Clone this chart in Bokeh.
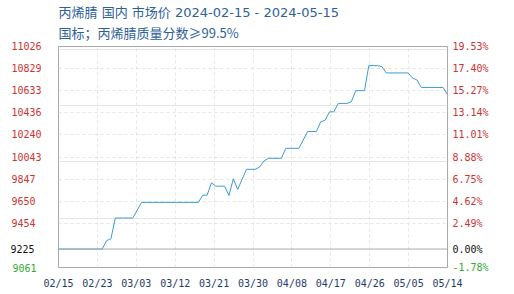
from bokeh.plotting import figure
from bokeh.models import FixedTicker, Grid, Span, Title, Range1d, LinearAxis
from bokeh.embed import file_html
from bokeh.resources import INLINE
import pandas as pd

title_text = "丙烯腈 国内 市场价 2024-02-15 - 2024-05-15"
subtitle_text = "国标；丙烯腈质量分数≥99.5%"

dates = ["2024-02-15", "2024-02-25", "2024-02-26", "2024-02-27", "2024-02-28",
         "2024-03-03", "2024-03-05", "2024-03-18", "2024-03-19", "2024-03-20",
         "2024-03-21", "2024-03-22", "2024-03-24", "2024-03-25", "2024-03-26",
         "2024-03-27", "2024-03-29", "2024-03-31", "2024-04-01", "2024-04-02",
         "2024-04-03", "2024-04-06", "2024-04-07", "2024-04-10", "2024-04-12",
         "2024-04-14", "2024-04-15", "2024-04-16", "2024-04-17", "2024-04-18",
         "2024-04-19", "2024-04-21", "2024-04-22", "2024-04-23", "2024-04-25",
         "2024-04-26", "2024-04-28", "2024-04-29", "2024-04-30", "2024-05-05",
         "2024-05-06", "2024-05-07", "2024-05-08", "2024-05-13", "2024-05-14"]
prices = [9225, 9225, 9299, 9317, 9501,
          9501, 9640, 9640, 9704, 9704,
          9814, 9784, 9784, 9701, 9850,
          9755, 9934, 9934, 9954, 10008,
          10032, 10032, 10121, 10121, 10270,
          10270, 10356, 10371, 10445, 10445,
          10520, 10520, 10535, 10633, 10633,
          10856, 10856, 10847, 10791, 10791,
          10746, 10729, 10662, 10662, 10597]

base_price = 9225
y_min, y_max = 9061, 11026
grid_values = [11026, 10829.5, 10633, 10436.5, 10240, 10043.5, 9847, 9650.5, 9454]
grid_labels = ["11026", "10829", "10633", "10436", "10240", "10043", "9847", "9650", "9454"]
grid_pct_labels = ["19.53%", "17.40%", "15.27%", "13.14%", "11.01%", "8.88%", "6.75%", "4.62%", "2.49%"]
base_label, base_pct_label = "9225", "0.00%"
min_label, min_pct_label = "9061", "-1.78%"
x_tick_labels = ["02/15", "02/23", "03/03", "03/12", "03/21", "03/30", "04/08", "04/17", "04/26", "05/05", "05/14"]

start = pd.Timestamp(dates[0])
end = pd.Timestamp(dates[-1])
days = [(pd.Timestamp(d) - start).days for d in dates]
span_days = (end - start).days
n = len(x_tick_labels) - 1
x_ticks = [i * span_days / n for i in range(n + 1)]

RED = "#cc3333"
GREEN = "#33aa33"
BLACK = "#111111"
MONO = "DejaVu Sans Mono"
NBSP = "\u00a0"

p = figure(width=514, height=294, output_backend="svg", toolbar_location=None,
           x_range=Range1d(0, span_days), y_range=Range1d(y_min, y_max),
           x_axis_location="below", y_axis_location=None,
           min_border_left=58, min_border_right=67, min_border_top=46, min_border_bottom=27)
p.background_fill_color = "white"
p.border_fill_color = "white"
p.outline_line_color = "#aaaaaa"
p.outline_line_width = 1

p.xgrid.ticker = FixedTicker(ticks=x_ticks)
p.xgrid.grid_line_color = "#e4e4e4"
p.xgrid.grid_line_dash = "3 3"
p.add_layout(Grid(dimension=1, ticker=FixedTicker(ticks=grid_values),
                  grid_line_color="#e4e4e4", grid_line_dash="3 3"))

ax = p.xaxis[0]
ax.ticker = FixedTicker(ticks=x_ticks)
ax.major_label_overrides = {t: l for t, l in zip(x_ticks, x_tick_labels)}
ax.axis_line_color = None
ax.major_tick_line_color = None
ax.minor_tick_line_color = None
ax.major_tick_out = 0
ax.major_label_standoff = 10
ax.major_label_text_font = MONO
ax.major_label_text_font_size = "10px"
ax.major_label_text_color = "#1f3c6a"


def add_y_axis(side, values, labels, color, standoff):
    a = LinearAxis(ticker=FixedTicker(ticks=values),
                   major_label_overrides={v: l for v, l in zip(values, labels)},
                   axis_line_color=None, major_tick_line_color=None, minor_tick_line_color=None,
                   major_tick_out=0, major_tick_in=0, minor_tick_out=0, minor_tick_in=0,
                   major_label_standoff=standoff,
                   major_label_text_font=MONO, major_label_text_font_size="10px",
                   major_label_text_color=color)
    p.add_layout(a, side)


# left: red labels padded to equal width (left-aligned look); black/green stacked outside
add_y_axis("left", grid_values, [l.ljust(5, NBSP) for l in grid_labels], RED, 17)
add_y_axis("left", [base_price], [base_label], BLACK, -26)
add_y_axis("left", [y_min], [min_label], GREEN, -29)

# right: percent change from base price
add_y_axis("right", grid_values, [l.ljust(6, NBSP) for l in grid_pct_labels], RED, 5)
add_y_axis("right", [base_price], [base_pct_label.ljust(6, NBSP)], BLACK, -39)
add_y_axis("right", [y_min], [min_pct_label.ljust(6, NBSP)], GREEN, -39)

p.add_layout(Span(location=base_price, dimension="width", line_color="#aaaaaa", line_width=1))

p.line(days, prices, line_color="#3d9ad6", line_width=1)

p.add_layout(Title(text=subtitle_text, align="left", offset=0, standoff=6, vertical_align="top",
                   text_font="Noto Sans CJK SC", text_font_size="13px",
                   text_font_style="normal", text_color="#2d5f9a"), "above")
p.add_layout(Title(text=title_text, align="left", offset=0, standoff=0,
                   text_font="DejaVu Sans, Noto Sans CJK SC", text_font_size="13px",
                   text_font_style="normal", text_color="#2d5f9a"), "above")

open("out.html", "w").write(file_html(p, INLINE))
